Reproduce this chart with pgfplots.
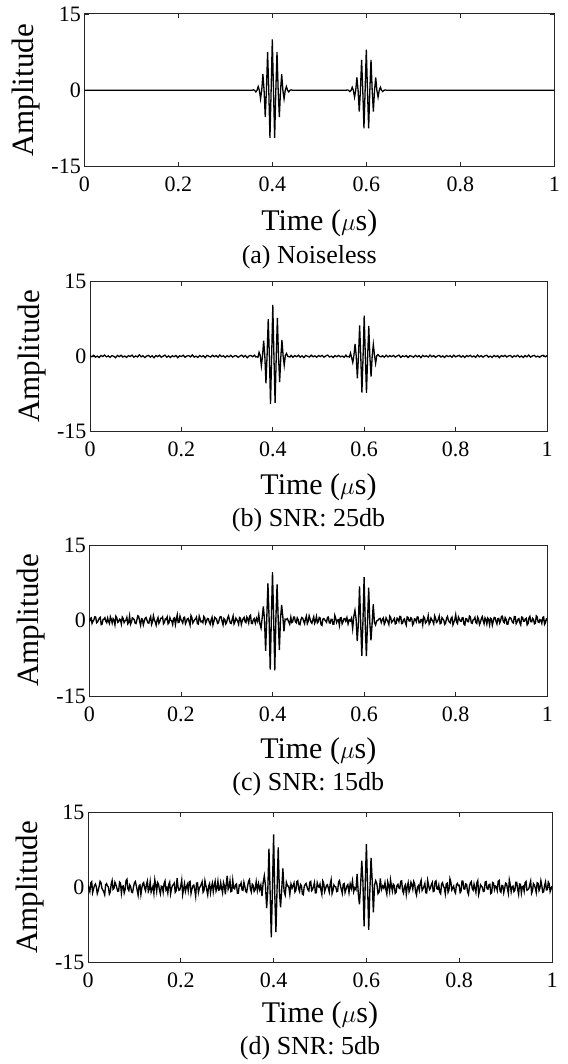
\documentclass[border=0pt]{standalone}
\usepackage{fontspec}
\setmainfont{Liberation Serif}
\usepackage{pgfplots}
\pgfplotsset{compat=1.18}
\usepackage{pgfplotstable}

% noiseless signal (a) and SNR 25 dB (b)
\pgfplotstableread{
t a b
0.000 0 0.12
0.004 0 -0.08
0.008 0 0.21
0.012 0 -0.15
0.016 0 0.05
0.020 0 -0.23
0.024 0 0.17
0.028 0 -0.04
0.032 0 0.26
0.036 0 -0.11
0.040 0 0.09
0.044 0 -0.19
0.048 0 0.14
0.052 0 0.02
0.056 0 -0.27
0.060 0 0.18
0.064 0 -0.06
0.068 0 0.22
0.072 0 -0.13
0.076 0 0.07
0.080 0 -0.21
0.084 0 0.15
0.088 0 -0.03
0.092 0 0.24
0.096 0 -0.17
0.100 0 0.08
0.104 0 -0.12
0.108 0 0.31
0.112 0 -0.09
0.116 0 0.13
0.120 0 -0.24
0.124 0 0.06
0.128 0 0.19
0.132 0 -0.14
0.136 0 0.11
0.140 0 -0.28
0.144 0 0.16
0.148 0 -0.05
0.152 0 0.21
0.156 0 -0.18
0.160 0 0.04
0.164 0 0.25
0.168 0 -0.16
0.172 0 0.09
0.176 0 -0.22
0.180 0 0.13
0.184 0 -0.07
0.188 0 0.18
0.192 0 -0.26
0.196 0 0.11
0.200 0 -0.02
0.204 0 0.23
0.208 0 -0.19
0.212 0 0.07
0.216 0 0.14
0.220 0 -0.11
0.224 0 0.29
0.228 0 -0.15
0.232 0 0.06
0.236 0 -0.21
0.240 0 0.17
0.244 0 -0.09
0.248 0 0.12
0.252 0 -0.25
0.256 0 0.19
0.260 0 0.03
0.264 0 -0.14
0.268 0 0.22
0.272 0 -0.08
0.276 0 0.16
0.280 0 -0.18
0.284 0 0.27
0.288 0 -0.06
0.292 0 0.11
0.296 0 -0.23
0.300 0 0.15
0.304 0 -0.10
0.308 0 0.20
0.312 0 -0.16
0.316 0 0.08
0.320 0 0.13
0.324 0 -0.20
0.328 0 0.05
0.332 0 0.24
0.336 0 -0.12
0.340 0 0.17
0.344 0 -0.27
0.348 0 0.09
0.352 0 0.18
0.356 0 -0.07
0.3600 0.10 0.24
0.3625 0 -0.11
0.3650 -0.30 -0.08
0.3675 0 -0.17
0.3700 0.75 0.81
0.3725 0 0.19
0.3750 -1.66 -1.90
0.3775 0 0.10
0.3800 3.17 3.12
0.3825 0 0.16
0.3850 -5.24 -5.37
0.3875 0 0.21
0.3900 7.50 7.42
0.3925 0 0.12
0.3950 -9.31 -9.50
0.3975 0 0.07
0.4000 10 10.25
0.4025 0 -0.14
0.4050 -9.31 -9.28
0.4075 0 -0.21
0.4100 7.50 7.68
0.4125 0 -0.06
0.4150 -5.24 -5.11
0.4175 0 -0.22
0.4200 3.17 3.26
0.4225 0 0.15
0.4250 -1.66 -1.76
0.4275 0 0.20
0.4300 0.75 0.58
0.4325 0 0.04
0.4350 -0.30 -0.07
0.4375 0 -0.12
0.4400 0.10 0.18
0.444 0 -0.19
0.448 0 0.14
0.452 0 -0.07
0.456 0 0.21
0.460 0 -0.15
0.464 0 0.10
0.468 0 -0.25
0.472 0 0.17
0.476 0 0.02
0.480 0 -0.13
0.484 0 0.24
0.488 0 -0.09
0.492 0 0.11
0.496 0 -0.20
0.500 0 0.16
0.504 0 -0.04
0.508 0 0.19
0.512 0 -0.16
0.516 0 0.08
0.520 0 0.26
0.524 0 -0.12
0.528 0 0.05
0.532 0 -0.22
0.536 0 0.14
0.540 0 -0.08
0.544 0 0.20
0.548 0 -0.11
0.552 0 0.07
0.556 0 -0.18
0.5600 0.08 0.23
0.5625 0 -0.09
0.5650 -0.24 -0.03
0.5675 0 -0.14
0.5700 0.60 0.66
0.5725 0 -0.23
0.5750 -1.33 -1.21
0.5775 0 0.18
0.5800 2.54 2.47
0.5825 0 0.13
0.5850 -4.19 -4.39
0.5875 0 0.09
0.5900 6.00 6.16
0.5925 0 -0.12
0.5950 -7.45 -7.21
0.5975 0 -0.05
0.6000 8.00 8.11
0.6025 0 -0.17
0.6050 -7.45 -7.25
0.6075 0 -0.10
0.6100 6.00 6.04
0.6125 0 -0.21
0.6150 -4.19 -4.04
0.6175 0 0.08
0.6200 2.54 2.38
0.6225 0 0.22
0.6250 -1.33 -1.39
0.6275 0 0.13
0.6300 0.60 0.36
0.6325 0 0.10
0.6350 -0.24 -0.07
0.6375 0 -0.08
0.6400 0.08 0.13
0.644 0 -0.18
0.648 0 0.22
0.652 0 -0.11
0.656 0 0.14
0.660 0 -0.06
0.664 0 0.19
0.668 0 -0.15
0.672 0 0.08
0.676 0 0.25
0.680 0 -0.20
0.684 0 0.10
0.688 0 -0.07
0.692 0 0.16
0.696 0 -0.23
0.700 0 0.12
0.704 0 0.03
0.708 0 -0.17
0.712 0 0.21
0.716 0 -0.09
0.720 0 0.14
0.724 0 -0.26
0.728 0 0.18
0.732 0 -0.04
0.736 0 0.11
0.740 0 -0.13
0.744 0 0.24
0.748 0 -0.08
0.752 0 0.15
0.756 0 -0.19
0.760 0 0.06
0.764 0 0.20
0.768 0 -0.14
0.772 0 0.09
0.776 0 -0.22
0.780 0 0.17
0.784 0 -0.05
0.788 0 0.13
0.792 0 -0.18
0.796 0 0.23
0.800 0 -0.10
0.804 0 0.07
0.808 0 0.19
0.812 0 -0.16
0.816 0 0.12
0.820 0 -0.24
0.824 0 0.16
0.828 0 -0.03
0.832 0 0.21
0.836 0 -0.12
0.840 0 0.08
0.844 0 -0.20
0.848 0 0.26
0.852 0 -0.09
0.856 0 0.14
0.860 0 -0.17
0.864 0 0.10
0.868 0 0.22
0.872 0 -0.15
0.876 0 0.06
0.880 0 -0.21
0.884 0 0.18
0.888 0 -0.07
0.892 0 0.13
0.896 0 -0.25
0.900 0 0.15
0.904 0 -0.04
0.908 0 0.20
0.912 0 -0.13
0.916 0 0.09
0.920 0 0.17
0.924 0 -0.19
0.928 0 0.11
0.932 0 -0.06
0.936 0 0.23
0.940 0 -0.14
0.944 0 0.07
0.948 0 -0.22
0.952 0 0.16
0.956 0 -0.10
0.960 0 0.25
0.964 0 -0.16
0.968 0 0.08
0.972 0 0.19
0.976 0 -0.11
0.980 0 0.04
0.984 0 -0.18
0.988 0 0.12
0.992 0 0.21
0.996 0 -0.09
1.000 0 0.14
}\sigab

% SNR 15 dB (c) and SNR 5 dB (d)
\pgfplotstableread{
t c d
0.000 -0.31 0.42
0.002 0.36 -0.23
0.004 0.52 -0.85
0.006 -0.58 0.91
0.008 -0.18 1.12
0.010 0.14 -1.05
0.012 0.74 -0.31
0.014 0.67 0.37
0.016 -0.46 0.67
0.018 -0.29 0.12
0.020 0.09 -1.24
0.022 0.48 -0.64
0.024 0.63 0.18
0.026 -0.82 1.21
0.028 -0.71 0.93
0.030 0.21 -0.18
0.032 0.27 -0.56
0.034 0.55 -0.89
0.036 -0.12 -1.47
0.038 -0.43 0.55
0.040 0.48 0.74
0.042 -0.16 0.28
0.044 -0.59 0.05
0.046 0.73 -1.33
0.048 0.21 -0.92
0.050 -0.51 0.66
0.052 0.36 1.36
0.054 0.09 -0.41
0.056 -0.83 -0.21
0.058 0.86 1.02
0.060 0.57 0.58
0.062 -0.37 -0.07
0.064 -0.24 -0.77
0.066 0.26 -0.72
0.068 0.15 1.05
0.070 -0.69 0.84
0.072 0.69 -1.18
0.074 0.41 0.19
0.076 -0.42 0.29
0.078 -0.08 -1.12
0.080 0.05 -0.44
0.082 0.62 1.37
0.084 -0.66 1.62
0.086 -0.34 -0.26
0.088 0.88 -0.63
0.090 -0.75 0.48
0.092 -0.33 0.11
0.094 0.52 -0.93
0.096 0.41 -1.03
0.098 0.18 0.05
0.100 -0.52 0.87
0.102 -0.61 1.16
0.104 0.17 0.36
0.106 0.94 -0.58
0.108 0.79 -1.55
0.110 -0.22 0.33
0.112 -0.95 0.49
0.114 0.35 -1.41
0.116 0.26 -0.12
0.118 -0.86 0.71
0.120 -0.14 0.95
0.122 0.47 -0.15
0.124 0.61 -0.68
0.126 0.06 0.62
0.128 -0.47 1.27
0.130 -0.53 -0.84
0.132 0.32 -0.39
0.134 0.79 1.09
0.136 -0.78 -0.94
0.138 -0.27 -0.36
0.140 0.94 0.22
0.142 0.13 -1.18
0.144 -0.29 1.48
0.146 -0.92 0.43
0.148 0.11 -0.81
0.150 0.58 0.97
0.152 -0.56 0.63
0.154 -0.19 -0.51
0.156 0.45 -1.29
0.158 0.44 0.24
0.160 0.72 0.16
0.162 -0.66 -0.95
0.164 -0.38 0.79
0.166 0.31 1.28
0.168 0.23 -0.47
0.170 0.71 -0.11
0.172 -0.67 -1.12
0.174 -0.45 0.57
0.176 0.54 1.05
0.178 0.04 -1.26
0.180 -0.08 -0.26
0.182 -0.78 0.38
0.184 0.39 0.54
0.186 0.53 0.83
0.188 -0.81 -0.99
0.190 0.24 -0.69
0.192 1.12 1.83
0.194 -0.39 0.14
0.196 -0.35 -0.58
0.198 0.87 -0.47
0.200 0.19 0.31
0.202 -0.12 1.45
0.204 -0.49 -1.41
0.206 0.57 -0.32
0.208 0.66 0.72
0.210 -0.64 -0.78
0.212 -0.21 0.08
0.214 0.33 0.59
0.216 0.43 -0.66
0.218 -0.25 1.04
0.220 -0.92 1.19
0.222 0.96 -1.22
0.224 0.58 -0.35
0.226 -0.48 0.27
0.228 -0.16 0.47
0.230 0.17 -0.44
0.232 0.31 -1.76
0.234 0.68 0.86
0.236 -0.63 0.89
0.238 -0.71 -1.01
0.240 0.85 -0.14
0.242 0.29 0.17
0.244 -0.27 0.61
0.246 -0.14 1.11
0.248 -0.44 -0.97
0.250 0.81 -0.63
0.252 0.53 1.33
0.254 -0.56 0.42
0.256 -0.11 -0.52
0.258 0.42 -1.49
0.260 0.37 0.26
0.262 -0.33 0.75
0.264 -0.74 -1.08
0.266 0.11 0.08
0.268 0.64 0.84
0.270 -0.87 -0.87
0.272 -0.19 0.39
0.274 0.64 1.19
0.276 0.46 -0.73
0.278 0.23 -0.22
0.280 -0.58 1.21
0.282 -0.46 -0.56
0.284 0.29 -0.45
0.286 0.77 0.94
0.288 0.71 -0.18
0.290 -0.21 -1.08
0.292 -0.86 0.96
0.294 0.38 0.31
0.296 0.13 -1.37
0.298 -0.68 0.69
0.300 -0.34 2.30
0.302 0.52 -0.39
0.304 0.92 0.12
0.306 0.07 1.32
0.308 -0.51 -0.86
0.310 -0.59 -0.74
0.312 0.24 1.44
0.314 0.91 -0.13
0.316 -0.69 -0.29
0.318 -0.31 0.52
0.320 0.47 0.68
0.322 0.19 -1.17
0.324 -0.13 -1.16
0.326 -0.74 0.46
0.328 0.59 0.35
0.330 0.45 0.88
0.332 -0.77 -0.51
0.334 -0.06 -0.61
0.336 0.35 1.02
0.338 0.63 0.21
0.340 -0.22 -0.79
0.342 -0.42 -0.98
0.344 0.68 0.23
0.346 0.28 1.23
0.348 -0.45 1.57
0.350 0.84 -0.35
0.352 1.05 -0.94
0.354 -0.57 0.63
0.356 -0.61 0.41
0.358 0.15 -0.82
0.3600 0.38 -0.52
0.3625 -0.54 1.14
0.3650 0.43 -0.63
0.3675 -0.19 0.77
0.3700 1.16 -0.46
0.3725 -0.68 0.48
0.3750 -1.51 -1.73
0.3775 0.56 0.92
0.3800 2.80 2.29
0.3825 0.22 0.36
0.3850 -6.03 -4.15
0.3875 0.48 -0.54
0.3900 7.38 7.69
0.3925 0.64 -1.02
0.3950 -9.74 -9.95
0.3975 0.33 -0.28
0.4000 9.60 10.55
0.4025 0.52 -1.33
0.4050 -9.90 -8.90
0.4075 0.71 -0.16
0.4100 7.15 7.94
0.4125 0.18 -0.91
0.4150 -5.86 -3.98
0.4175 0.44 -0.37
0.4200 3.08 3.79
0.4225 0.81 -0.75
0.4250 -2.14 -1.53
0.4275 0.27 1.01
0.4300 0.18 0.26
0.4325 0.39 0.27
0.4350 -0.18 -1.41
0.4375 -0.73 0.66
0.4400 0.65 -0.14
0.442 -0.41 0.35
0.444 -0.28 0.88
0.446 0.67 -0.92
0.448 0.67 -0.59
0.450 -0.24 1.14
0.452 -0.45 1.31
0.454 0.53 -0.27
0.456 0.21 -0.82
0.458 -0.79 0.58
0.460 -0.84 0.34
0.462 0.12 -1.31
0.464 0.59 -1.46
0.466 0.46 0.16
0.468 -0.17 0.57
0.470 -0.63 0.79
0.472 0.36 0.09
0.474 0.88 -0.48
0.476 -0.62 -0.71
0.478 -0.18 1.03
0.480 0.93 1.18
0.482 0.32 -0.66
0.484 -0.31 -0.43
0.486 -0.55 0.22
0.488 0.14 0.96
0.490 0.74 -1.09
0.492 -0.55 -1.07
0.494 -0.09 0.91
0.496 0.78 0.21
0.498 -0.47 0.04
0.500 -0.23 0.64
0.502 0.61 -0.53
0.504 0.49 -1.39
0.506 -0.83 1.26
0.508 -0.96 0.82
0.510 0.27 -0.85
0.512 0.38 -0.27
0.514 0.14 0.39
0.516 -0.11 0.53
0.518 -0.36 -0.18
0.520 0.62 -0.95
0.522 0.69 0.72
0.524 -0.47 1.52
0.526 -0.51 -1.24
0.528 0.25 -0.61
0.530 0.22 0.47
0.532 -0.72 0.17
0.534 -0.72 0.11
0.536 1.01 -0.84
0.538 0.43 -0.76
0.540 -0.39 1.07
0.542 0.08 1.35
0.544 0.16 0.32
0.546 -0.94 -0.43
0.548 0.53 -1.19
0.550 0.57 0.61
0.552 -0.66 0.75
0.554 -0.26 -1.02
0.556 0.34 -0.38
0.558 0.39 0.29
0.5600 -0.13 0.54
0.5625 0.58 -1.05
0.5650 -0.68 0.69
0.5675 0.13 -0.22
0.5700 -0.09 1.28
0.5725 0.47 -0.89
0.5750 -1.59 -0.09
0.5775 0.82 -0.46
0.5800 2.01 2.69
0.5825 0.29 -1.27
0.5850 -4.08 -3.38
0.5875 -0.64 0.37
0.5900 6.76 5.31
0.5925 -0.35 1.11
0.5950 -7.03 -7.76
0.5975 -0.18 0.59
0.6000 8.61 8.60
0.6025 -0.83 0.24
0.6050 -7.08 -8.45
0.6075 -0.14 -0.57
0.6100 6.52 5.87
0.6125 -0.47 1.35
0.6150 -3.95 -4.97
0.6175 -0.61 0.43
0.6200 3.23 1.32
0.6225 -0.32 0.71
0.6250 -0.88 -1.27
0.6275 -0.08 -0.93
0.6300 0.03 1.76
0.6325 0.31 -0.41
0.6350 0.42 0.28
0.6375 -0.42 -0.17
0.6400 0.27 0.94
0.642 0.51 -0.48
0.644 -0.74 -1.32
0.646 -0.33 1.07
0.648 0.53 0.28
0.650 0.12 -0.81
0.652 -0.26 1.47
0.654 -0.77 0.26
0.656 0.88 -0.74
0.658 0.64 0.64
0.660 -0.39 0.39
0.662 -0.18 -1.19
0.664 0.15 -0.96
0.666 0.43 0.38
0.668 -0.67 0.61
0.670 -0.56 -0.09
0.672 0.46 -0.23
0.674 0.29 1.22
0.676 -0.21 1.29
0.678 0.82 -0.67
0.680 0.79 -1.15
0.682 -0.62 0.13
0.684 -0.52 0.49
0.686 0.17 -1.36
0.688 0.33 0.14
0.690 -0.41 0.92
0.692 -0.91 -0.87
0.694 0.73 -0.31
0.696 0.62 1.03
0.698 -0.07 0.55
0.700 -0.13 -0.36
0.702 0.55 1.18
0.704 0.41 0.72
0.706 -0.89 -0.87
0.708 -0.58 -1.53
0.710 0.34 0.04
0.712 0.24 0.33
0.714 -0.23 -0.59
0.716 0.71 0.81
0.718 0.66 1.41
0.720 -0.46 -0.62
0.722 -0.45 -0.24
0.724 0.18 0.19
0.726 0.21 0.77
0.728 -0.83 -1.08
0.730 0.78 -1.11
0.732 0.55 1.38
0.734 -0.52 0.45
0.736 -0.29 -0.44
0.738 0.09 -0.16
0.740 0.97 0.57
0.742 -0.71 0.98
0.744 -0.36 -0.83
0.746 0.48 -0.72
0.748 0.12 1.12
0.750 -0.14 1.29
0.752 -0.64 -0.29
0.754 0.93 -0.38
0.756 0.49 0.46
0.758 -0.38 -0.95
0.760 -0.22 -1.26
0.762 0.26 0.66
0.764 0.86 0.93
0.766 -0.64 0.21
0.768 -0.54 -0.11
0.770 0.57 -1.28
0.772 0.31 0.68
0.774 0.03 0.83
0.776 -0.76 -0.97
0.778 -0.49 -0.47
0.780 0.43 1.71
0.782 0.81 1.06
0.784 0.09 -0.52
0.786 -0.28 -0.12
0.788 -0.48 0.25
0.790 0.44 -0.79
0.792 0.67 -1.14
0.794 -0.85 0.51
0.796 -0.33 0.79
0.798 0.16 0.36
0.800 1.14 0.41
0.802 -0.32 -1.04
0.804 -0.61 -0.76
0.806 0.69 1.24
0.808 0.28 1.23
0.810 -0.11 -0.29
0.812 -0.17 -0.34
0.814 0.52 0.68
0.816 0.57 0.58
0.818 -0.74 -0.91
0.820 -0.89 -1.41
0.822 0.37 0.17
0.824 0.34 0.87
0.826 -0.21 1.13
0.828 -0.25 -0.18
0.830 0.88 -0.54
0.832 0.73 0.64
0.834 -0.46 -0.21
0.836 -0.56 -0.99
0.838 0.13 0.89
0.840 0.21 1.34
0.842 0.61 -1.38
0.844 -0.42 -0.55
0.846 -0.58 0.49
0.848 0.64 0.21
0.850 0.24 0.03
0.852 -0.79 -0.82
0.854 -0.36 -0.73
0.856 0.38 1.07
0.858 0.77 1.16
0.860 -0.07 -0.27
0.862 -0.63 -0.35
0.864 0.52 0.49
0.866 0.19 0.61
0.868 -0.68 -1.22
0.870 0.47 -1.07
0.872 0.16 0.96
0.874 -0.82 0.84
0.876 0.45 -0.43
0.878 0.31 0.26
0.880 -0.93 0.15
0.882 -0.17 -0.62
0.884 0.61 1.19
0.886 0.54 1.39
0.888 -0.19 -0.71
0.890 -0.68 -0.96
0.892 0.36 0.37
0.894 0.42 0.31
0.896 -0.51 -1.06
0.898 -0.05 -0.18
0.900 0.83 0.84
0.902 0.86 0.74
0.904 -0.27 -0.32
0.906 -0.44 -1.21
0.908 0.58 1.48
0.910 0.27 0.57
0.912 -0.72 -0.89
0.914 -0.72 0.09
0.916 0.14 0.26
0.918 0.59 -0.84
0.920 0.49 -0.58
0.922 0.11 1.02
0.924 -0.38 1.02
0.926 -0.49 -0.41
0.928 0.77 -1.37
0.930 0.76 0.67
0.932 -0.63 0.63
0.934 -0.31 -1.15
0.936 0.26 0.09
0.938 0.38 0.23
0.940 -0.45 -0.78
0.942 -0.87 0.93
0.944 0.69 1.17
0.946 0.63 -0.58
0.948 -0.15 -0.46
0.950 -0.15 -0.27
0.952 0.33 0.55
0.954 0.45 1.26
0.956 -0.87 -1.19
0.958 -0.61 -0.69
0.960 0.54 0.74
0.962 0.83 0.44
0.964 -0.24 -0.14
0.966 -0.26 -1.03
0.968 0.42 0.92
0.970 0.18 0.81
0.972 -0.66 -0.65
0.974 -0.54 -0.14
0.976 0.92 1.31
0.978 0.71 0.37
0.980 -0.31 -0.98
0.982 -0.39 -0.88
0.984 0.18 0.38
0.986 0.06 1.09
0.988 -0.55 -0.51
0.990 0.58 -0.46
0.992 0.71 1.06
0.994 -0.77 0.72
0.996 -0.43 -0.86
0.998 0.35 -0.33
1.000 0.27 0.23
}\sigcd

\pgfplotsset{panel/.style={
  scale only axis,
  anchor=south west,
  xmin=0, xmax=1, ymin=-15, ymax=15,
  xtick={0,0.2,0.4,0.6,0.8,1}, xticklabels={0,0.2,0.4,0.6,0.8,1},
  ytick={-15,0,15}, yticklabels={-15,0,15},
  tick align=inside, major tick length=4.5pt,
  tick style={color=black!85, line width=0.8pt},
  axis line style={color=black!85, line width=1pt},
  ticklabel style={font=\fontsize{22}{22}\selectfont},
  xticklabel style={yshift=-7pt},
}}
\tikzset{ylab/.style={font=\fontsize{31}{31}\selectfont, inner sep=0pt, rotate=90},
         xlab/.style={font=\fontsize{30}{30}\selectfont, inner sep=0pt},
         subcap/.style={font=\fontsize{26}{26}\selectfont, inner sep=0pt}}

\begin{document}
\begin{tikzpicture}
\useasboundingbox (0pt,0pt) rectangle (567pt,-1064pt);

\begin{axis}[panel, name=A, at={(84.3pt,-166.7pt)}, width=470pt, height=152.7pt]
\addplot[black, line width=1.3pt] table[x=t, y=a] {\sigab};
\end{axis}
\node[ylab] at ([xshift=-58pt]A.west) {Amplitude};
\node[xlab] at ([yshift=-57pt]A.south) {Time ($\mu$s)};
\node[subcap] at ([xshift=-10pt, yshift=-91pt]A.south) {(a) Noiseless};

\begin{axis}[panel, name=B, at={(90pt,-431.7pt)}, width=457pt, height=150.7pt]
\addplot[black, line width=1.3pt] table[x=t, y=b] {\sigab};
\end{axis}
\node[ylab] at ([xshift=-58pt]B.west) {Amplitude};
\node[xlab] at ([yshift=-56pt]B.south) {Time ($\mu$s)};
\node[subcap] at ([xshift=-10pt, yshift=-89pt]B.south) {(b) SNR: 25db};

\begin{axis}[panel, name=C, at={(89.3pt,-696pt)}, width=458pt, height=151pt]
\addplot[black, line width=1.35pt] table[x=t, y=c] {\sigcd};
\end{axis}
\node[ylab] at ([xshift=-58pt]C.west) {Amplitude};
\node[xlab] at ([yshift=-55pt]C.south) {Time ($\mu$s)};
\node[subcap] at ([xshift=-10pt, yshift=-88pt]C.south) {(c) SNR: 15db};

\begin{axis}[panel, name=D, at={(88pt,-962.7pt)}, width=464pt, height=150.7pt]
\addplot[black, line width=1.35pt] table[x=t, y=d] {\sigcd};
\end{axis}
\node[ylab] at ([xshift=-58pt]D.west) {Amplitude};
\node[xlab] at ([yshift=-53pt]D.south) {Time ($\mu$s)};
\node[subcap] at ([xshift=-10pt, yshift=-86pt]D.south) {(d) SNR: 5db};
\end{tikzpicture}
\end{document}
